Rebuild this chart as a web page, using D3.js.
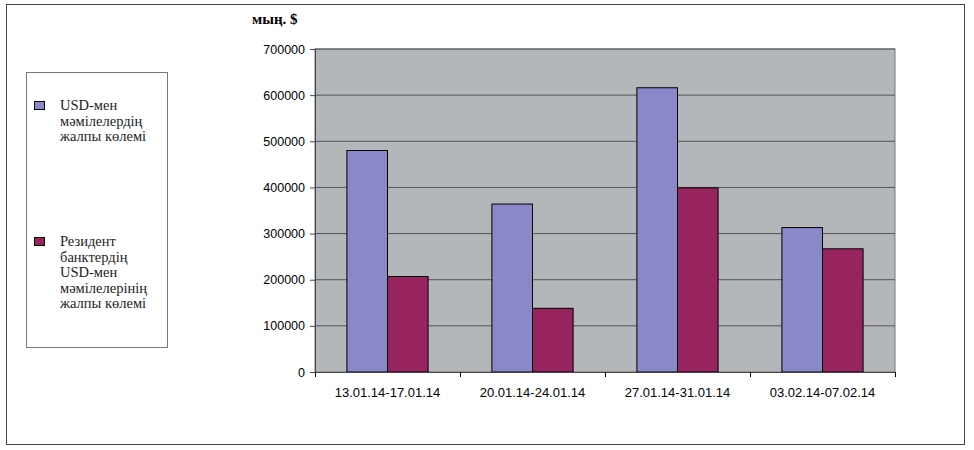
<!DOCTYPE html>
<html><head><meta charset="utf-8">
<script src="https://cdn.jsdelivr.net/npm/d3@7"></script>
<style>body{margin:0;background:#fff}</style>
</head><body><div id="chart"></div>
<script>
const categories = ["13.01.14-17.01.14", "20.01.14-24.01.14", "27.01.14-31.01.14", "03.02.14-07.02.14"];
const usdTotal = [480000, 364000, 616000, 313000];
const residentTotal = [207000, 138000, 399000, 267000];
const yTicks = [0, 100000, 200000, 300000, 400000, 500000, 600000, 700000];
const seriesNames = [["USD-мен", "мәмілелердің", "жалпы көлемі"],
  ["Резидент", "банктердің", "USD-мен", "мәмілелерінің", "жалпы көлемі"]];
const colors = ["#8989c9", "#98245f"];

const W = 974, H = 450;
const margin = { top: 49, right: 79, bottom: 78, left: 315 };
const width = W - margin.left - margin.right, height = H - margin.top - margin.bottom;

const svg = d3.select("#chart").append("svg").attr("width", W).attr("height", H);
svg.append("rect").attr("x", 6.5).attr("y", 4.5).attr("width", 958).attr("height", 440)
  .attr("fill", "#fff").attr("stroke", "#444");

const g = svg.append("g").attr("transform", `translate(${margin.left},${margin.top})`);
const x = d3.scaleBand().domain(categories).range([0, width]);
const x1 = d3.scaleBand().domain([0, 1]).range([x.bandwidth() * 0.22, x.bandwidth() * 0.78]);
const y = d3.scaleLinear().domain([0, 700000]).range([height, 0]);

g.append("rect").attr("width", width).attr("height", height).attr("fill", "#b4b7b9").attr("stroke", "#777");
g.selectAll(".grid").data(yTicks.slice(1)).enter().append("line")
  .attr("x1", 0).attr("x2", width).attr("y1", d => y(d)).attr("y2", d => y(d))
  .attr("stroke", "#555").attr("stroke-width", 1);

const series = [usdTotal, residentTotal];
series.forEach((vals, i) => {
  g.selectAll(".bar" + i).data(vals).enter().append("rect")
    .attr("x", (d, j) => x(categories[j]) + x1(i))
    .attr("y", d => y(d)).attr("width", x1.bandwidth()).attr("height", d => height - y(d))
    .attr("fill", colors[i]).attr("stroke", "#000").attr("stroke-width", 1);
});

const yAxis = g.append("g").call(d3.axisLeft(y).tickValues(yTicks).tickFormat(d3.format("d")).tickSize(5));
const xAxis = g.append("g").attr("transform", `translate(0,${height})`)
  .call(d3.axisBottom(x).tickSize(5).tickValues([]));
g.append("g").attr("transform", `translate(0,${height})`)
  .call(d3.axisBottom(d3.scalePoint().domain(d3.range(categories.length + 1)).range([0, width])).tickSize(5).tickFormat(""))
  .select(".domain").remove();
g.selectAll(".xl").data(categories).enter().append("text")
  .attr("x", d => x(d) + x.bandwidth() / 2).attr("y", height + 25).attr("text-anchor", "middle")
  .attr("font-family", "Liberation Sans, Arial").attr("font-size", 13).attr("fill", "#000").text(d => d);
[yAxis, xAxis].forEach(a => {
  a.selectAll("path,line").attr("stroke", "#444");
  a.selectAll("text").attr("font-family", "Liberation Sans, Arial").attr("font-size", 12.5).attr("fill", "#000");
});
yAxis.selectAll("text").attr("x", -10);

svg.append("text").attr("x", 252).attr("y", 24).attr("font-family", "Liberation Serif, Times New Roman")
  .attr("font-weight", "bold").attr("font-size", 15).text("мың. $");

const lg = svg.append("g");
lg.append("rect").attr("x", 26.5).attr("y", 72.5).attr("width", 141).attr("height", 275)
  .attr("fill", "#fff").attr("stroke", "#777");
const legendY = [100, 236];
seriesNames.forEach((lines, i) => {
  lg.append("rect").attr("x", 34.5).attr("y", legendY[i] + 1.5).attr("width", 10).attr("height", 8)
    .attr("fill", colors[i]).attr("stroke", "#000");
  lines.forEach((t, k) => lg.append("text").attr("x", 60).attr("y", legendY[i] + 10 + k * 15.5)
    .attr("font-family", "Liberation Serif, Times New Roman").attr("font-size", 14.5).attr("fill", "#222").text(t));
});
</script></body></html>
